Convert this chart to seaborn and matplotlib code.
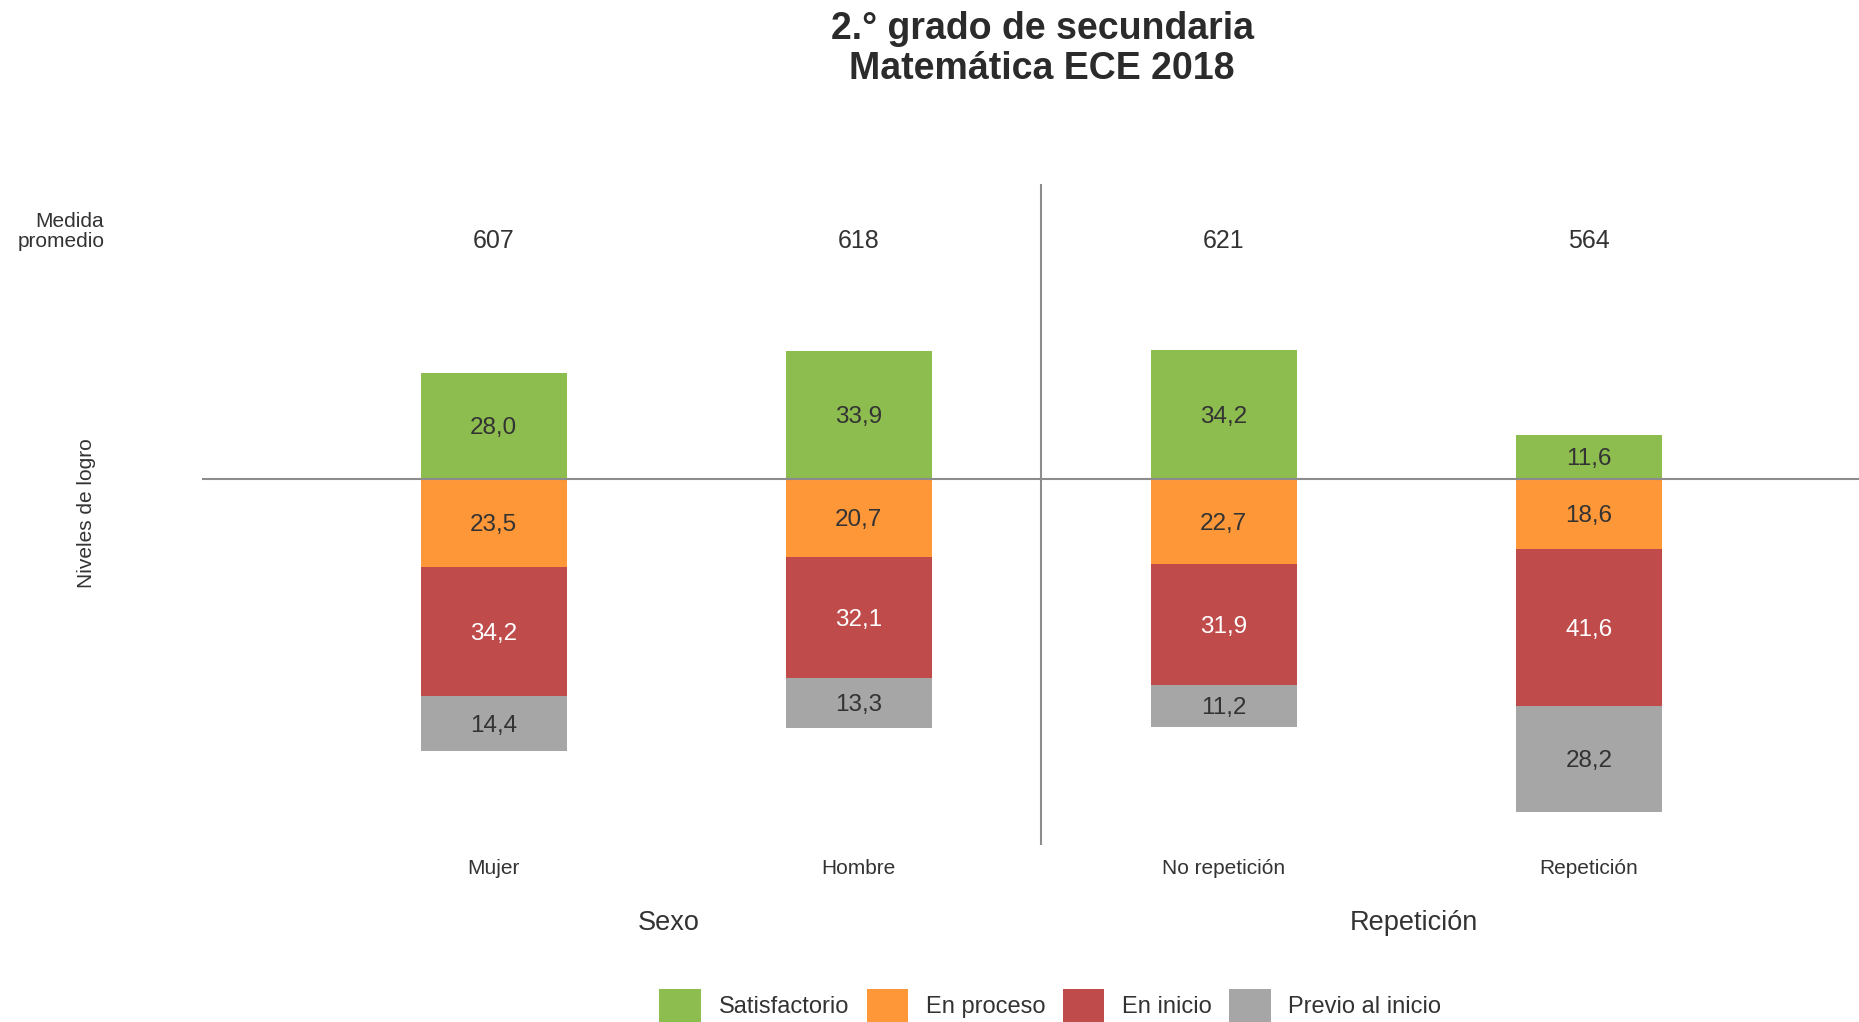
import numpy as np
import pandas as pd
import matplotlib.pyplot as plt
from matplotlib.patches import Patch
import seaborn as sns

## data ##

categorias = ['Mujer', 'Hombre', 'No repetición', 'Repetición']
satisfactorio = [28.0, 33.9, 34.2, 11.6]
en_proceso = [23.5, 20.7, 22.7, 18.6]
en_inicio = [34.2, 32.1, 31.9, 41.6]
previo = [14.4, 13.3, 11.2, 28.2]
medida = [607, 618, 621, 564]
grupos = ['Sexo', 'Repetición']

niveles = ['Satisfactorio', 'En proceso', 'En inicio', 'Previo al inicio']
colores = ['#8DBC4F', '#FE9738', '#C04B4B', '#A6A6A6']

## style ##

sns.set_style('white')
plt.rcParams['font.family'] = ['Liberation Sans', 'DejaVu Sans']
txt = '#333333'

fig = plt.figure(figsize=(18.59, 10.22), dpi=100)
ax = fig.add_axes([0.1084, 0.1729, 0.8916, 0.6473])

# diverging stacks: green above zero, the rest below (cumulative overlap)
proc = np.array(en_proceso)
ini = proc + np.array(en_inicio)
prev = ini + np.array(previo)

for vals, col in [(satisfactorio, colores[0]), (-prev, colores[3]),
                  (-ini, colores[2]), (-proc, colores[1])]:
    sns.barplot(x=categorias, y=list(vals), color=col, width=0.4,
                saturation=1, linewidth=0, ax=ax, order=categorias)

ax.set_xlim(-0.80, 3.74)
ax.set_ylim(-97.2, 78.3)
ax.axhline(0, color='#8c8c8c', lw=1.5, zorder=3)
ax.axvline(1.5, color='#8c8c8c', lw=1.5, zorder=3)
ax.set_axis_off()

# segment labels
fs = 17.5
off = -0.6
for i in range(len(categorias)):
    ax.text(i, satisfactorio[i] / 2 + off, f'{satisfactorio[i]:.1f}'.replace('.', ','),
            ha='center', va='center', fontsize=fs, color=txt, zorder=4)
    ax.text(i, -proc[i] / 2 + off, f'{en_proceso[i]:.1f}'.replace('.', ','),
            ha='center', va='center', fontsize=fs, color=txt, zorder=4)
    ax.text(i, -(proc[i] + ini[i]) / 2 + off, f'{en_inicio[i]:.1f}'.replace('.', ','),
            ha='center', va='center', fontsize=fs, color='white', zorder=4)
    ax.text(i, -(ini[i] + prev[i]) / 2 + off, f'{previo[i]:.1f}'.replace('.', ','),
            ha='center', va='center', fontsize=fs, color=txt, zorder=4)
    ax.text(i, 63.0, str(medida[i]), ha='center', va='center',
            fontsize=18, color=txt)
    ax.text(i, -103.4, categorias[i], ha='center', va='center',
            fontsize=15, color=txt, clip_on=False)

for j, g in enumerate(grupos):
    ax.text(0.48 + 2.04 * j, -117.8, g, ha='center', va='center',
            fontsize=19.5, color=txt, clip_on=False)

fig.text(0.5606, 0.952, '2.° grado de secundaria\nMatemática ECE 2018',
         ha='center', va='center', fontsize=27, fontweight='bold',
         color='#2b2b2b', linespacing=1.15)
fig.text(0.0561, 0.7738, 'Medida\npromedio', ha='right', va='center',
         fontsize=15, color=txt, multialignment='right', linespacing=1.05)
fig.text(0.0466, 0.4977, 'Niveles de logro', ha='center', va='center',
         rotation=90, fontsize=15, color=txt)

handles = [Patch(facecolor=c, edgecolor='none') for c in colores]
fig.legend(handles, niveles, loc='center', bbox_to_anchor=(0.565, 0.0162),
           ncol=4, frameon=False, fontsize=17, handlelength=1.75,
           handleheight=1.75, columnspacing=0.75, handletextpad=0.75,
           labelcolor=txt, borderaxespad=0, borderpad=0)

fig.savefig('out.png', dpi=100)
